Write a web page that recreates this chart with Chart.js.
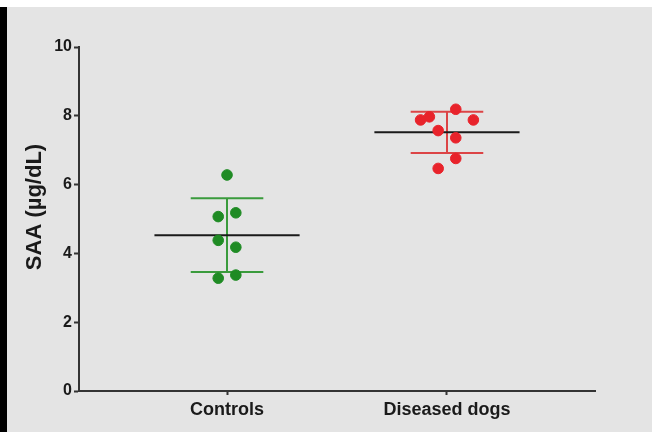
<!DOCTYPE html>
<html>
<head>
<meta charset="utf-8">
<script src="https://cdn.jsdelivr.net/npm/chart.js@4.4.1/dist/chart.umd.min.js"></script>
<style>
  html, body { margin: 0; padding: 0; background: #ffffff; width: 652px; height: 432px; overflow: hidden; }
  #strip { position: absolute; left: 0; top: 7px; width: 7px; height: 425px; background: #000000; }
  #wrap { position: absolute; left: 7px; top: 7px; width: 645px; height: 425px; background: #e4e4e4; }
</style>
</head>
<body>
<div id="strip"></div>
<div id="wrap"><canvas id="chart" width="645" height="425"></canvas></div>
<script>
// groups
var categories = ['Controls', 'Diseased dogs'];
var yTitle = 'SAA (µg/dL)';

// SAA values (µg/dL) and their horizontal scatter around the group position
var controlsValues = [6.28, 5.07, 5.18, 4.38, 4.18, 3.28, 3.37];
var controlsJitter = [0, -0.04, 0.04, -0.04, 0.04, -0.04, 0.04];
var diseasedValues = [8.19, 7.88, 7.97, 7.88, 7.57, 7.36, 6.76, 6.47];
var diseasedJitter = [0.04, -0.12, -0.08, 0.12, -0.04, 0.04, 0.04, -0.04];

// mean and SD per group
var means = [4.53, 7.52];
var sds = [1.07, 0.60];

var yTicks = [0, 2, 4, 6, 8, 10];

var green = '#1f8b24';
var red = '#e8232b';
var greenLine = '#3a9b3c';
var redLine = '#dc4446';

function points(values, jitter, pos) {
    return values.map(function (v, i) { return { x: pos + jitter[i], y: v }; });
}

function hline(pos, y, half) {
    return [{ x: pos - half, y: y }, { x: pos + half, y: y }];
}

function lineSet(data, color, order) {
    return {
        type: 'line',
        data: data,
        borderColor: color,
        borderWidth: 2,
        pointRadius: 0,
        fill: false,
        showLine: true,
        order: order
    };
}

var datasets = [
    {
        data: points(controlsValues, controlsJitter, 1),
        backgroundColor: green, borderColor: green, pointRadius: 5.3, order: 0
    },
    {
        data: points(diseasedValues, diseasedJitter, 2),
        backgroundColor: red, borderColor: red, pointRadius: 5.3, order: 0
    }
];

var lineColors = [greenLine, redLine];
means.forEach(function (m, i) {
    var pos = i + 1;
    datasets.push(lineSet(hline(pos, m + sds[i], 0.165), lineColors[i], 2));
    datasets.push(lineSet(hline(pos, m - sds[i], 0.165), lineColors[i], 2));
    datasets.push(lineSet([{ x: pos, y: m - sds[i] }, { x: pos, y: m + sds[i] }], lineColors[i], 2));
    datasets.push(lineSet(hline(pos, m, 0.33), '#1a1a1a', 1));
});

// y axis title, drawn a bit above the axis centre like in the original
var yTitlePlugin = {
    id: 'yTitle',
    afterDraw: function (chart) {
        var c = chart.ctx;
        c.save();
        c.translate(28, 200);
        c.rotate(-Math.PI / 2);
        c.font = 'bold 22px "Liberation Sans"';
        c.fillStyle = '#1a1a1a';
        c.textAlign = 'center';
        c.textBaseline = 'middle';
        c.fillText(yTitle, 0, 0);
        c.restore();
    }
};

var ctx = document.getElementById('chart');
var chart = new Chart(ctx, {
    type: 'scatter',
    data: { datasets: datasets },
    plugins: [yTitlePlugin],
    options: {
        responsive: false,
        animation: false,
        layout: { padding: { top: 40, right: 57, bottom: 0, left: 0 } },
        plugins: { legend: { display: false }, tooltip: { enabled: false } },
        scales: {
            x: {
                type: 'linear',
                min: 0.327,
                max: 2.673,
                afterBuildTicks: function (scale) {
                    scale.ticks = categories.map(function (c, i) { return { value: i + 1 }; });
                },
                afterFit: function (scale) { scale.height = 41; },
                ticks: {
                    callback: function (v) { return categories[v - 1]; },
                    color: '#1a1a1a',
                    font: { family: 'Liberation Sans', size: 18, weight: 'bold' },
                    padding: 4,
                    maxRotation: 0
                },
                grid: { drawOnChartArea: false, color: '#333333', tickLength: 4, tickWidth: 2 },
                border: { color: '#333333', width: 2 }
            },
            y: {
                min: 0,
                max: 10,
                afterBuildTicks: function (scale) {
                    scale.ticks = yTicks.map(function (v) { return { value: v }; });
                },
                afterFit: function (scale) { scale.width = 72; },
                ticks: {
                    color: '#1a1a1a',
                    font: { family: 'Liberation Sans', size: 16, weight: 'bold' },
                    padding: 2
                },
                grid: { drawOnChartArea: false, color: '#333333', tickLength: 5, tickWidth: 2 },
                border: { color: '#333333', width: 2 }
            }
        }
    }
});
</script>
</body>
</html>
